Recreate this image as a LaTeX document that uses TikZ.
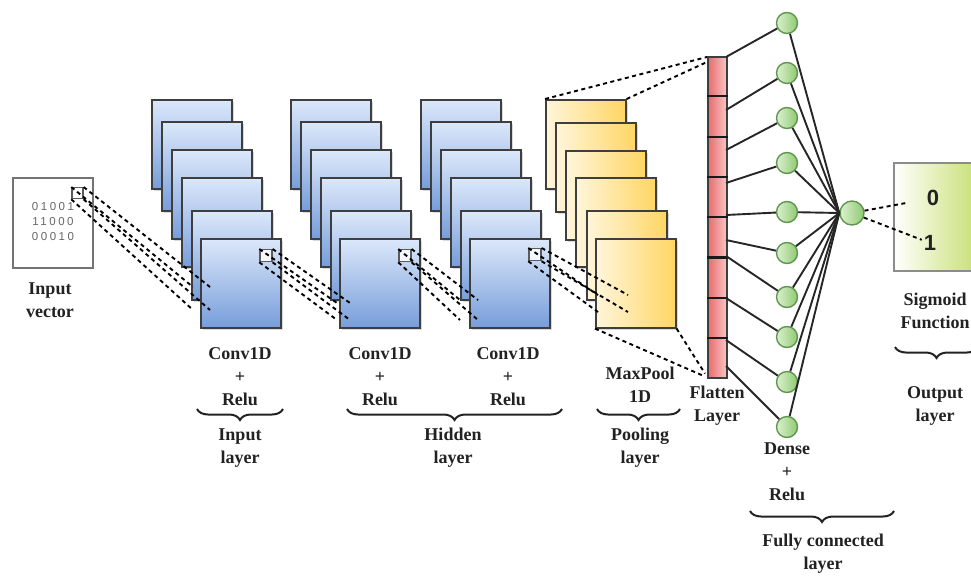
\documentclass[tikz,border=0pt]{standalone}
\usepackage{fontspec}
\setmainfont{Liberation Serif}
\newfontfamily\digitfont[LetterSpace=22]{Liberation Sans}
\newfontfamily\outfont{Liberation Sans}
\usetikzlibrary{shadows,decorations.pathreplacing,calc}

\definecolor{bluetop}{HTML}{DCE8FA}
\definecolor{bluebot}{HTML}{779DDA}
\definecolor{yelL}{HTML}{FFF5DA}
\definecolor{yelR}{HTML}{FFD663}
\definecolor{flatL}{HTML}{E86A6A}
\definecolor{flatR}{HTML}{F7C6C6}
\definecolor{neuL}{HTML}{DDF0D0}
\definecolor{neuR}{HTML}{8DCA70}
\definecolor{neuLine}{HTML}{5F9550}
\definecolor{outR}{HTML}{C3DD6A}
\definecolor{frame}{HTML}{3E3E3E}
\definecolor{ink}{HTML}{222222}

\tikzset{
  sheet/.style={draw=frame, line width=1.6pt, minimum width=80pt, minimum height=89pt,
    anchor=north west, inner sep=0pt,
    drop shadow={shadow xshift=2pt, shadow yshift=-2pt, opacity=0.3}},
  bluesheet/.style={sheet, top color=bluetop, bottom color=bluebot},
  yellowsheet/.style={sheet, left color=yelL, right color=yelR},
  window/.style={draw=frame!85, line width=1.3pt, minimum size=12pt, inner sep=0pt,
    anchor=north east, fill=white!70!bluetop},
  dashline/.style={draw=black, line width=1.9pt, dash pattern=on 4pt off 3.5pt},
  link/.style={draw=black!85, line width=1.9pt},
  neuron/.style={circle, draw=neuLine, line width=1.4pt, minimum size=21pt, inner sep=0pt,
    left color=neuL, right color=neuR},
  lbl/.style={font=\fontsize{18}{23}\selectfont\bfseries, align=center, text=ink, inner sep=0pt},
  digits/.style={font=\digitfont\fontsize{11.5}{13}\selectfont, text=black!60, inner sep=0pt},
  bigdigit/.style={font=\outfont\fontsize{22}{24}\selectfont\bfseries, text=ink, inner sep=1pt},
  brace/.style={decorate, decoration={brace, mirror, amplitude=11pt}, draw=ink, line width=2pt},
  divider/.style={draw=black!90, line width=2.2pt}
}

\begin{document}
\begin{tikzpicture}[x=1pt, y=-1pt]
\useasboundingbox (0,0) rectangle (971,576);

% input vector
\node[draw=black!55, line width=1.6pt, fill=white, minimum width=80pt, minimum height=90pt,
      anchor=north west, inner sep=0pt] (inp) at (12,177) {};
\node[window, minimum size=11pt, fill=white] (wi) at ($(inp.north east)+(-10,10)$) {};
\node[digits] (r1) at (53,207) {01001};
\node[digits] (r2) at (53,222) {11000};
\node[digits] (r3) at (53,237) {00010};

% three convolution stacks
\foreach \s/\x in {a/151, b/290, c/420} {
  \foreach \i/\dx/\y in {1/0/99, 2/10/121, 3/20/149, 4/30/177, 5/40/210, 6/49/238} {
    \node[bluesheet] (\s\i) at (\x+\dx,\y) {};
  }
}
\node[window] (wa) at ($(a6.north east)+(-9,11)$) {};
\node[window] (wb) at ($(b6.north east)+(-9,11)$) {};
\node[window] (wc) at ($(c6.north east)+(-9,10)$) {};

% pooling stack
\foreach \i/\dx/\y in {1/0/99, 2/10/122, 3/20/150, 4/30/177, 5/41/210, 6/50/238} {
  \node[yellowsheet] (y\i) at (545+\dx,\y) {};
}

% receptive-field projections
\foreach \w/\l/\t/\r/\b in {wi/193/287/210/310, wa/337/303/350/320,
                            wb/460/300/478/320, wc/598/295/628/312} {
  \coordinate (\w-nw) at (\l,\t);
  \coordinate (\w-ne) at (\r,\t);
  \coordinate (\w-se) at (\r,\b);
  \coordinate (\w-sw) at (\l,\b);
  \draw[dashline] (\w.north west) -- (\w-nw);
  \draw[dashline] (\w.north east) -- (\w-ne);
  \draw[dashline] (\w.south east) -- (\w-se);
  \draw[dashline] (\w.south west) -- (\w-sw);
}

% flatten layer
\node[draw=frame, line width=1.5pt, minimum width=19pt, minimum height=321pt, anchor=north west,
      inner sep=0pt, left color=flatL, right color=flatR] (flat) at (707,56) {};
\foreach \k in {1,...,7}
  \draw[divider] ($(flat.north west)!\k/8!(flat.south west)$) -- ($(flat.north east)!\k/8!(flat.south east)$);

\coordinate (ft1) at ($(flat.north west)+(0,1)$);
\coordinate (ft2) at ($(flat.north west)+(0,6)$);
\coordinate (fb1) at ($(flat.south west)+(-2,-2)$);
\coordinate (fb2) at ($(flat.south west)+(-2,-5)$);
\draw[dashline] (y1.north west) -- (ft1);
\draw[dashline] (y1.north east) -- (ft2);
\draw[dashline] (y6.south west) -- (fb1);
\draw[dashline] (y6.south east) -- (fb2);

% dense layer and output neuron
\node[neuron, minimum size=24pt] (out) at (852,213) {};
\foreach \j/\y/\fy in {1/23/57, 2/73/110, 3/118/150, 4/163/183, 5/212/215,
                      6/253/240, 7/297/256, 8/337/298, 9/382/340, 10/427/366} {
  \node[neuron] (d\j) at (787,\y) {};
  \coordinate (f\j) at (726,\fy);
  \draw[link] (f\j) -- (d\j);
  \draw[link] (d\j) -- (out.west);
}

% sigmoid output
\node[draw=black!45, line width=1.5pt, minimum width=90pt, minimum height=108pt, anchor=north west,
      inner sep=0pt, left color=white, right color=outR] (obox) at (893,162) {};
\node[bigdigit] (o0) at (933,198) {0};
\node[bigdigit] (o1) at (930,243) {1};
\draw[dashline, shorten >=18pt] (out) -- (o0);
\draw[dashline, shorten >=1pt] (out) -- (o1);

% captions
\node[lbl] (lin) at (50,300) {Input\\vector};
\node[lbl] (c1) at (240,377) {Conv1D\\+\\Relu};
\node[lbl] (c2) at (380,377) {Conv1D\\+\\Relu};
\node[lbl] (c3) at (508,377) {Conv1D\\+\\Relu};
\node[lbl] (mp) at (640,385) {MaxPool\\1D};
\node[lbl] (fl) at (717,406) {Flatten\\Layer};
\node[lbl] (dn) at (787,472) {Dense\\+\\Relu};
\node[lbl] (sg) at (935,311) {Sigmoid\\Function};
\node[lbl] (ol) at (935,406) {Output\\layer};
\node[lbl] (il) at (240,448) {Input\\layer};
\node[lbl] (hl) at (453,448) {Hidden\\layer};
\node[lbl] (pl) at (640,448) {Pooling\\layer};
\node[lbl] (fc) at (823,554) {Fully connected\\layer};

% group braces
\draw[brace] (197,409) -- (283,409);
\draw[brace] (347,409) -- (562,409);
\draw[brace] (597,409) -- (680,409);
\draw[brace] (750,511) -- (894,511);
\draw[brace] (895,347) -- (978,347);
\end{tikzpicture}
\end{document}
